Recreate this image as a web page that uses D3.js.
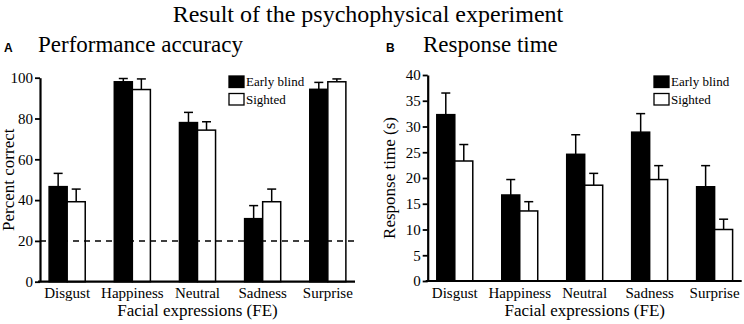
<!DOCTYPE html>
<html>
<head>
  <title>Result of the psychophysical experiment</title>
  <script src="https://d3js.org/d3.v7.min.js"></script>
  <style>
    body { margin: 0; background: white; }
    text { font-family: "Liberation Serif", "Times New Roman", serif; fill: black; }
  </style>
</head>
<body>
<svg id="chart" width="744" height="324"></svg>
<script>
// categories and series
const expressions = ["Disgust", "Happiness", "Neutral", "Sadness", "Surprise"];
const groups = ["Early blind", "Sighted"];

// panel A: percent correct (mean, upper error)
const accBlind = [46.6, 98.0, 78.0, 30.9, 94.3];
const accBlindErr = [53.1, 99.6, 83.0, 37.3, 97.7];
const accSighted = [39.2, 94.2, 74.3, 39.2, 98.0];
const accSightedErr = [45.4, 99.4, 78.4, 45.4, 99.4];
const accTicks = [0, 20, 40, 60, 80, 100];
const chanceLevel = 20;

// panel B: response time in seconds (mean, upper error)
const rtBlind = [32.3, 16.7, 24.6, 28.9, 18.3];
const rtBlindErr = [36.5, 19.7, 28.4, 32.5, 22.4];
const rtSighted = [23.3, 13.6, 18.6, 19.7, 10.0];
const rtSightedErr = [26.5, 15.4, 20.9, 22.4, 12.0];
const rtTicks = [0, 5, 10, 15, 20, 25, 30, 35, 40];

const svg = d3.select("#chart");

// main title
svg.append("text")
    .attr("x", 368).attr("y", 22)
    .attr("text-anchor", "middle")
    .style("font-size", "24px")
    .text("Result of the psychophysical experiment");

function drawPanel(opt) {
    const x = d3.scaleBand()
        .domain(expressions)
        .range([opt.left, opt.right])
        .paddingInner(0.446)
        .paddingOuter(0.14);
    const xs = d3.scaleBand()
        .domain(groups)
        .range([0, x.bandwidth()]);
    const y = d3.scaleLinear()
        .domain([0, opt.max])
        .range([opt.bottom, opt.top]);

    const g = svg.append("g");

    // panel letter + title
    g.append("text")
        .attr("x", opt.letterX).attr("y", 52)
        .style("font-family", "'Liberation Sans', Arial, sans-serif")
        .style("font-weight", "bold")
        .style("font-size", "12px")
        .text(opt.letter);
    g.append("text")
        .attr("x", opt.titleX).attr("y", 52)
        .style("font-size", "23px")
        .text(opt.title);

    // rows of data for bars
    const rows = [];
    expressions.forEach((e, i) => {
        rows.push({ e: e, grp: groups[0], v: opt.blind[i], err: opt.blindErr[i] });
        rows.push({ e: e, grp: groups[1], v: opt.sighted[i], err: opt.sightedErr[i] });
    });

    // error bars (upper only)
    const eb = g.append("g").attr("stroke", "black").attr("stroke-width", 1.5);
    eb.selectAll("line.v")
        .data(rows)
        .enter()
        .append("line")
        .attr("class", "v")
        .attr("x1", d => x(d.e) + xs(d.grp) + xs.bandwidth() / 2)
        .attr("x2", d => x(d.e) + xs(d.grp) + xs.bandwidth() / 2)
        .attr("y1", d => y(d.v))
        .attr("y2", d => y(d.err));
    eb.selectAll("line.cap")
        .data(rows)
        .enter()
        .append("line")
        .attr("class", "cap")
        .attr("x1", d => x(d.e) + xs(d.grp) + xs.bandwidth() / 2 - 4.5)
        .attr("x2", d => x(d.e) + xs(d.grp) + xs.bandwidth() / 2 + 4.5)
        .attr("y1", d => y(d.err))
        .attr("y2", d => y(d.err));

    // bars
    g.selectAll("rect.bar")
        .data(rows)
        .enter()
        .append("rect")
        .attr("class", "bar")
        .attr("x", d => x(d.e) + xs(d.grp))
        .attr("y", d => y(d.v))
        .attr("width", xs.bandwidth())
        .attr("height", d => y(0) - y(d.v))
        .attr("fill", d => d.grp === groups[0] ? "black" : "white")
        .attr("stroke", "black")
        .attr("stroke-width", 1.5);

    // chance line
    if (opt.chance !== undefined) {
        g.append("line")
            .attr("x1", opt.left).attr("x2", opt.right)
            .attr("y1", y(opt.chance)).attr("y2", y(opt.chance))
            .attr("stroke", "black")
            .attr("stroke-width", 1.5)
            .attr("stroke-dasharray", "6,5");
    }

    // y axis
    const yAxis = g.append("g")
        .attr("transform", `translate(${opt.left},0)`)
        .call(d3.axisLeft(y).tickValues(opt.ticks).tickSize(5).tickSizeOuter(0).tickPadding(2));
    yAxis.select(".domain").attr("stroke-width", 2.2);
    yAxis.selectAll(".tick line").attr("stroke-width", 1.8);
    yAxis.selectAll(".tick text")
        .style("font-family", "'Liberation Serif', 'Times New Roman', serif")
        .style("font-size", "15px");

    // x axis
    const xAxis = g.append("g")
        .attr("transform", `translate(0,${opt.bottom})`)
        .call(d3.axisBottom(x).tickSize(0).tickPadding(6));
    xAxis.select(".domain")
        .attr("d", `M${opt.left - 2},0H${opt.right}`)
        .attr("stroke-width", 2.2);
    xAxis.selectAll(".tick text")
        .style("font-family", "'Liberation Serif', 'Times New Roman', serif")
        .style("font-size", "15px");

    // axis titles
    g.append("text")
        .attr("x", (opt.left + opt.right) / 2).attr("y", 316)
        .attr("text-anchor", "middle")
        .style("font-size", "17px")
        .text("Facial expressions (FE)");
    g.append("text")
        .attr("transform", `translate(${opt.yTitleX},${(opt.top + opt.bottom) / 2}) rotate(-90)`)
        .attr("text-anchor", "middle")
        .style("font-size", "17px")
        .text(opt.yTitle);

    // legend
    const leg = g.selectAll("g.leg")
        .data(groups)
        .enter()
        .append("g")
        .attr("class", "leg")
        .attr("transform", (d, i) => `translate(${opt.legendX},${76 + i * 17.5})`);
    leg.append("rect")
        .attr("width", 15).attr("height", 11.5)
        .attr("fill", (d, i) => i === 0 ? "black" : "white")
        .attr("stroke", "black")
        .attr("stroke-width", 1.3);
    leg.append("text")
        .attr("x", 17).attr("y", 10)
        .style("font-size", "13px")
        .text(d => d);
}

drawPanel({
    letter: "A", letterX: 4, title: "Performance accuracy", titleX: 38,
    left: 40, right: 355, top: 77.7, bottom: 281.7, max: 100,
    ticks: accTicks, chance: chanceLevel,
    blind: accBlind, blindErr: accBlindErr, sighted: accSighted, sightedErr: accSightedErr,
    yTitle: "Percent correct", yTitleX: 14, legendX: 229
});

drawPanel({
    letter: "B", letterX: 386, title: "Response time", titleX: 423,
    left: 427.7, right: 741.7, top: 75, bottom: 281, max: 40,
    ticks: rtTicks,
    blind: rtBlind, blindErr: rtBlindErr, sighted: rtSighted, sightedErr: rtSightedErr,
    yTitle: "Response time (s)", yTitleX: 395, legendX: 654
});
</script>
</body>
</html>
